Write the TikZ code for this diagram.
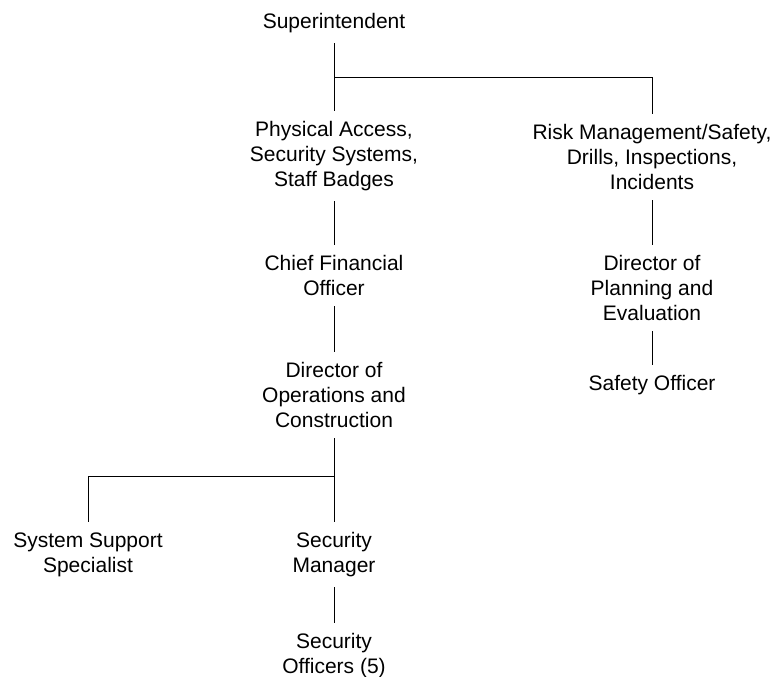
\documentclass[tikz,border=0pt]{standalone}
\usepackage{fontspec}
\setmainfont{Liberation Sans}

\begin{document}
\begin{tikzpicture}[x=1pt,y=-1pt,line width=0.8pt,
                post/.style={anchor=north,align=center,inner xsep=0pt,inner ysep=10pt,
                             font=\fontsize{21}{25}\selectfont}]
                \useasboundingbox (0,0) rectangle (774,677);
                \node[post] (sup)  at (334,3)   {Superintendent};
                \node[post] (phys) at (334,111) {Physical Access,\\Security Systems,\\Staff Badges};
                \node[post] (cfo)  at (334,245) {Chief Financial\\Officer};
                \node[post] (dops) at (334,352) {Director of\\Operations and\\Construction};
                \node[post] (sss)  at (88,522)  {System Support\\Specialist};
                \node[post] (secm) at (334,522) {Security\\Manager};
                \node[post] (seco) at (334,623) {Security\\Officers (5)};
                \node[post] (risk) at (652,114) {Risk Management/Safety,\\Drills, Inspections,\\Incidents};
                \node[post] (dpe)  at (652,245) {Director of\\Planning and\\Evaluation};
                \node[post] (safe) at (652,365) {Safety Officer};

                \coordinate (topbus) at (334,77);
                \coordinate (lowbus) at (334,476);

                \path (sup) edge (phys)
                      (phys) edge (cfo)
                      (cfo) edge (dops)
                      (dops) edge (secm)
                      (secm) edge (seco)
                      (risk) edge (dpe)
                      (dpe) edge (safe);
                \draw (topbus) -| (risk.north);
                \draw (lowbus) -| (sss.north);
\end{tikzpicture}
\end{document}
